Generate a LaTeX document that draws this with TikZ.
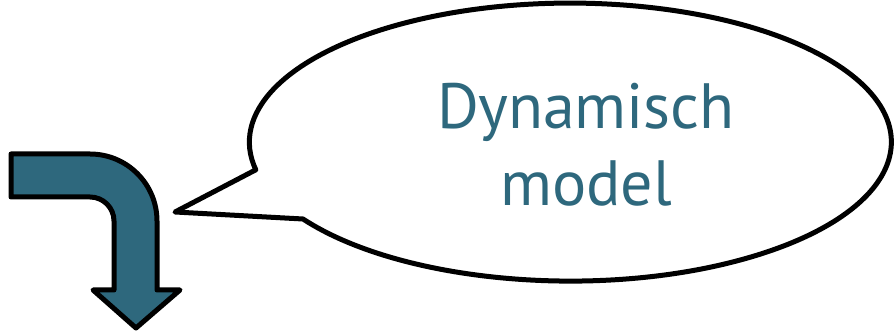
\documentclass[tikz,border=0pt]{standalone}
\usepackage{fontspec}
\setmainfont{PT Sans}
\definecolor{teal}{RGB}{46,104,125}
\begin{document}
\begin{tikzpicture}[x=1pt,y=1pt,
        outline/.style={draw=black,line width=5pt,line join=round},
        bubbletext/.style={teal,align=center,font=\fontsize{64}{77}\selectfont}]
        \useasboundingbox (0,0) rectangle (894,332);
        % bent arrow
        \draw [outline,fill=teal] (11,178)--(90,178) arc[start angle=90,end angle=0,radius=67pt]
            --(157,42)--(180,42)--(136,4)--(93,42)--(114,42)--(114,111)
            arc[start angle=0,end angle=90,radius=24pt]--(11,135)--cycle;
        % speech bubble
        \coordinate (tip) at (175,120);
        \coordinate (base) at (303,113);
        \draw [outline,fill=white] (tip)--(base)
            arc[start angle=213.6,end angle=551.5,x radius=321pt,y radius=139pt]--cycle;
        \node [bubbletext] (label) at (586,187) {Dynamisch\\model};
    \end{tikzpicture}
\end{document}
